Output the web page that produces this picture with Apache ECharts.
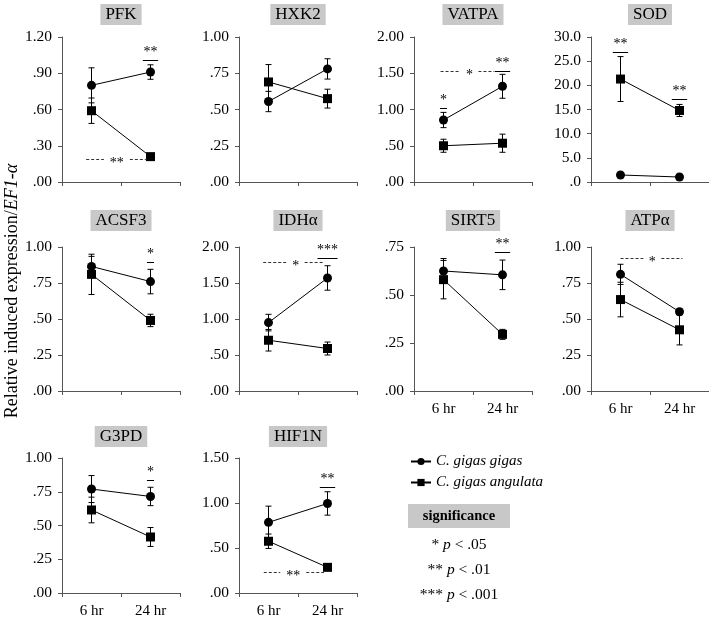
<!DOCTYPE html>
<html><head><meta charset="utf-8">
<script src="https://cdn.jsdelivr.net/npm/echarts@6/dist/echarts.min.js"></script>
<style>html,body{margin:0;padding:0;background:#fff}#c{width:709px;height:619px}</style>
</head><body><div id="c"></div>
<script>
// ---------- data ----------
const genes = ['PFK','HXK2','VATPA','SOD','ACSF3','IDHα','SIRT5','ATPα','G3PD','HIF1N'];
const times = ['6 hr','24 hr'];
const seriesNames = ['C. gigas gigas','C. gigas angulata'];
const gigasMean = [[0.80,0.91],[0.555,0.78],[0.855,1.32],[1.45,1.03],[0.865,0.76],[0.95,1.57],[0.625,0.605],[0.81,0.55],[0.77,0.715],[0.785,0.995]];
const gigasErr  = [[0.145,0.06],[0.07,0.07],[0.105,0.165],[0.3,0.2],[0.07,0.085],[0.115,0.17],[0.065,0.077],[0.07,0.02],[0.1,0.068],[0.18,0.13]];
const angMean   = [[0.59,0.21],[0.69,0.575],[0.50,0.535],[21.3,14.8],[0.81,0.49],[0.705,0.59],[0.58,0.295],[0.635,0.425],[0.615,0.415],[0.575,0.285]];
const angErr    = [[0.105,0.01],[0.12,0.065],[0.09,0.125],[4.65,1.25],[0.14,0.043],[0.15,0.09],[0.1,0.026],[0.12,0.105],[0.095,0.07],[0.08,0.01]];
const yMax      = [1.2,1,2,30,1,2,0.75,1,1,1.5];
const yStep     = [0.3,0.25,0.5,5,0.25,0.5,0.25,0.25,0.25,0.5];
const yDecimals = [2,2,2,1,2,2,2,2,2,2];
// significance marks: panel, x1, x2 (category units), y, label, dashed, label position
const sigMarks = [
  [0,-0.09,0.94,0.19,'**',1,0.43],
  [0,0.87,1.13,1.01,'**',0],
  [2,-0.05,0.86,1.53,'*',1,0.44],
  [2,0.87,1.13,1.53,'**',0],
  [2,-0.06,0.06,1.02,'*',0],
  [3,-0.13,0.13,27.0,'**',0],
  [3,0.87,1.13,17.1,'**',0],
  [4,0.94,1.06,0.898,'*',0],
  [5,0.83,1.17,1.85,'***',0],
  [5,-0.09,0.92,1.796,'*',1,0.46],
  [6,0.87,1.13,0.722,'**',0],
  [7,0.0,1.05,0.923,'*',1,0.54],
  [8,0.94,1.06,0.84,'*',0],
  [9,0.87,1.13,1.18,'**',0],
  [9,-0.08,0.94,0.23,'**',1,0.42]
];
const pLegend = [['*','.05'],['**','.01'],['***','.001']];

// ---------- layout ----------
const FONT = '"Liberation Serif","Times New Roman",serif';
const colLeft = [62,239,414,591], rowTop = [37,247,458], rowH = [145,144,142], titleTop = [4,210,426], plotW = 118;
const AX = '#555';

const grids=[], xAxes=[], yAxes=[], series=[], graphics=[];

function errRender(params, api){
  const x = api.value(0);
  const lo = api.coord([x, api.value(1)]), hi = api.coord([x, api.value(2)]);
  const w = 3, st = {stroke:'#000', lineWidth:1};
  return {type:'group', children:[
    {type:'line', shape:{x1:lo[0],y1:lo[1],x2:hi[0],y2:hi[1]}, style:st},
    {type:'line', shape:{x1:lo[0]-w,y1:lo[1],x2:lo[0]+w,y2:lo[1]}, style:st},
    {type:'line', shape:{x1:hi[0]-w,y1:hi[1],x2:hi[0]+w,y2:hi[1]}, style:st}
  ]};
}
function makeSigRender(marks){
  return function(params, api){
    const m = marks[params.dataIndex];
    const p0 = api.coord([0, m[3]]), p1 = api.coord([1, m[3]]);
    const band = p1[0]-p0[0], y = Math.round(p0[1])+0.5;
    const xa = p0[0]+m[1]*band, xb = p0[0]+m[2]*band;
    const ch = [];
    if (m[5]) {
      const lx = p0[0]+m[6]*band, gap = 4*m[4].length+5;
      const ds = {stroke:'#333', lineWidth:1, lineDash:[3,2]};
      ch.push({type:'line', shape:{x1:xa,y1:y,x2:lx-gap,y2:y}, style:ds});
      ch.push({type:'line', shape:{x1:lx+gap,y1:y,x2:xb,y2:y}, style:ds});
      ch.push({type:'text', style:{text:m[4], x:lx, y:y+4, align:'center', verticalAlign:'middle', fontSize:14, fontFamily:FONT, fill:'#000'}});
    } else {
      ch.push({type:'line', shape:{x1:xa,y1:y,x2:xb,y2:y}, style:{stroke:'#000', lineWidth:1}});
      ch.push({type:'text', style:{text:m[4], x:(xa+xb)/2, y:y-1, align:'center', verticalAlign:'bottom', fontSize:14, fontFamily:FONT, fill:'#000'}});
    }
    return {type:'group', children:ch};
  };
}

genes.forEach((g,i)=>{
  const r = Math.floor(i/4), c = i%4;
  const left = colLeft[c], top = rowTop[r];
  grids.push({left, top, width:plotW, height:rowH[r]});
  xAxes.push({type:'category', gridIndex:i, data:times, boundaryGap:true,
    axisLine:{lineStyle:{color:AX}}, axisTick:{show:true, length:4, lineStyle:{color:AX}},
    axisLabel:{show:i>=6, fontFamily:FONT, fontSize:15, color:'#000', margin:11}});
  yAxes.push({type:'value', gridIndex:i, min:0, max:yMax[i], interval:yStep[i],
    splitLine:{show:false}, axisLine:{show:true, lineStyle:{color:AX}},
    axisTick:{show:true, length:4, lineStyle:{color:AX}},
    axisLabel:{fontFamily:FONT, fontSize:15.5, color:'#000', margin:10,
      formatter:v=>v.toFixed(yDecimals[i]).replace(/^0\./,'.')}});
  const means = [gigasMean[i], angMean[i]], errs = [gigasErr[i], angErr[i]];
  means.forEach((mv,s)=>{
    series.push({type:'custom', xAxisIndex:i, yAxisIndex:i, z:2, silent:true, animation:false,
      renderItem:errRender, encode:{x:0,y:[1,2]},
      data:mv.map((v,k)=>[k, v-errs[s][k], v+errs[s][k]])});
  });
  means.forEach((mv,s)=>{
    series.push({type:'line', name:seriesNames[s], xAxisIndex:i, yAxisIndex:i, z:3, silent:true, animation:false,
      data:mv, symbol:s===0?'circle':'rect', symbolSize:9, showSymbol:true,
      itemStyle:{color:'#000'}, lineStyle:{color:'#000', width:1}});
  });
  const marks = sigMarks.filter(m=>m[0]===i);
  if (marks.length) {
    series.push({type:'custom', xAxisIndex:i, yAxisIndex:i, z:4, silent:true, animation:false, clip:false,
      renderItem:makeSigRender(marks), encode:{x:0,y:1},
      data:marks.map(m=>[0, m[3]])});
  }
  graphics.push({type:'text', x:left+plotW/2, y:titleTop[r], style:{text:g, fontSize:17, fontFamily:FONT, fill:'#000',
    backgroundColor:'#c8c8c8', padding:[2,5,2,5], align:'center', verticalAlign:'top'}});
});

// y-axis name
graphics.push({type:'text', x:12, y:291, rotation:Math.PI/2, style:{
  text:'Relative induced expression/{i|EF1-α}', fontSize:18, fontFamily:FONT, fill:'#000', align:'center', verticalAlign:'middle',
  rich:{i:{fontStyle:'italic', fontSize:18, fontFamily:FONT, fill:'#000'}}}});
// significance box
graphics.push({type:'rect', shape:{x:408,y:504,width:102,height:24}, style:{fill:'#c8c8c8'}});
graphics.push({type:'text', x:459, y:516, style:{text:'significance', fontSize:14.5, fontWeight:'bold', fontFamily:FONT, fill:'#000', align:'center', verticalAlign:'middle'}});
pLegend.forEach((p,k)=>{
  graphics.push({type:'text', x:459, y:545+k*25, style:{text:p[0]+' {i|p} < '+p[1], fontSize:15.5, fontFamily:FONT, fill:'#000', align:'center', verticalAlign:'middle',
    rich:{i:{fontStyle:'italic', fontSize:15.5, fontFamily:FONT, fill:'#000'}}}});
});

const chart = echarts.init(document.getElementById('c'));
chart.setOption({
  animation:false,
  backgroundColor:'#fff',
  grid:grids, xAxis:xAxes, yAxis:yAxes, series:series, graphic:graphics,
  legend:{data:seriesNames, orient:'vertical', left:410, top:454, padding:0, itemWidth:20, itemHeight:9, itemGap:6,
    textStyle:{fontFamily:FONT, fontSize:15, fontStyle:'italic', color:'#000'}}
});
</script></body></html>
